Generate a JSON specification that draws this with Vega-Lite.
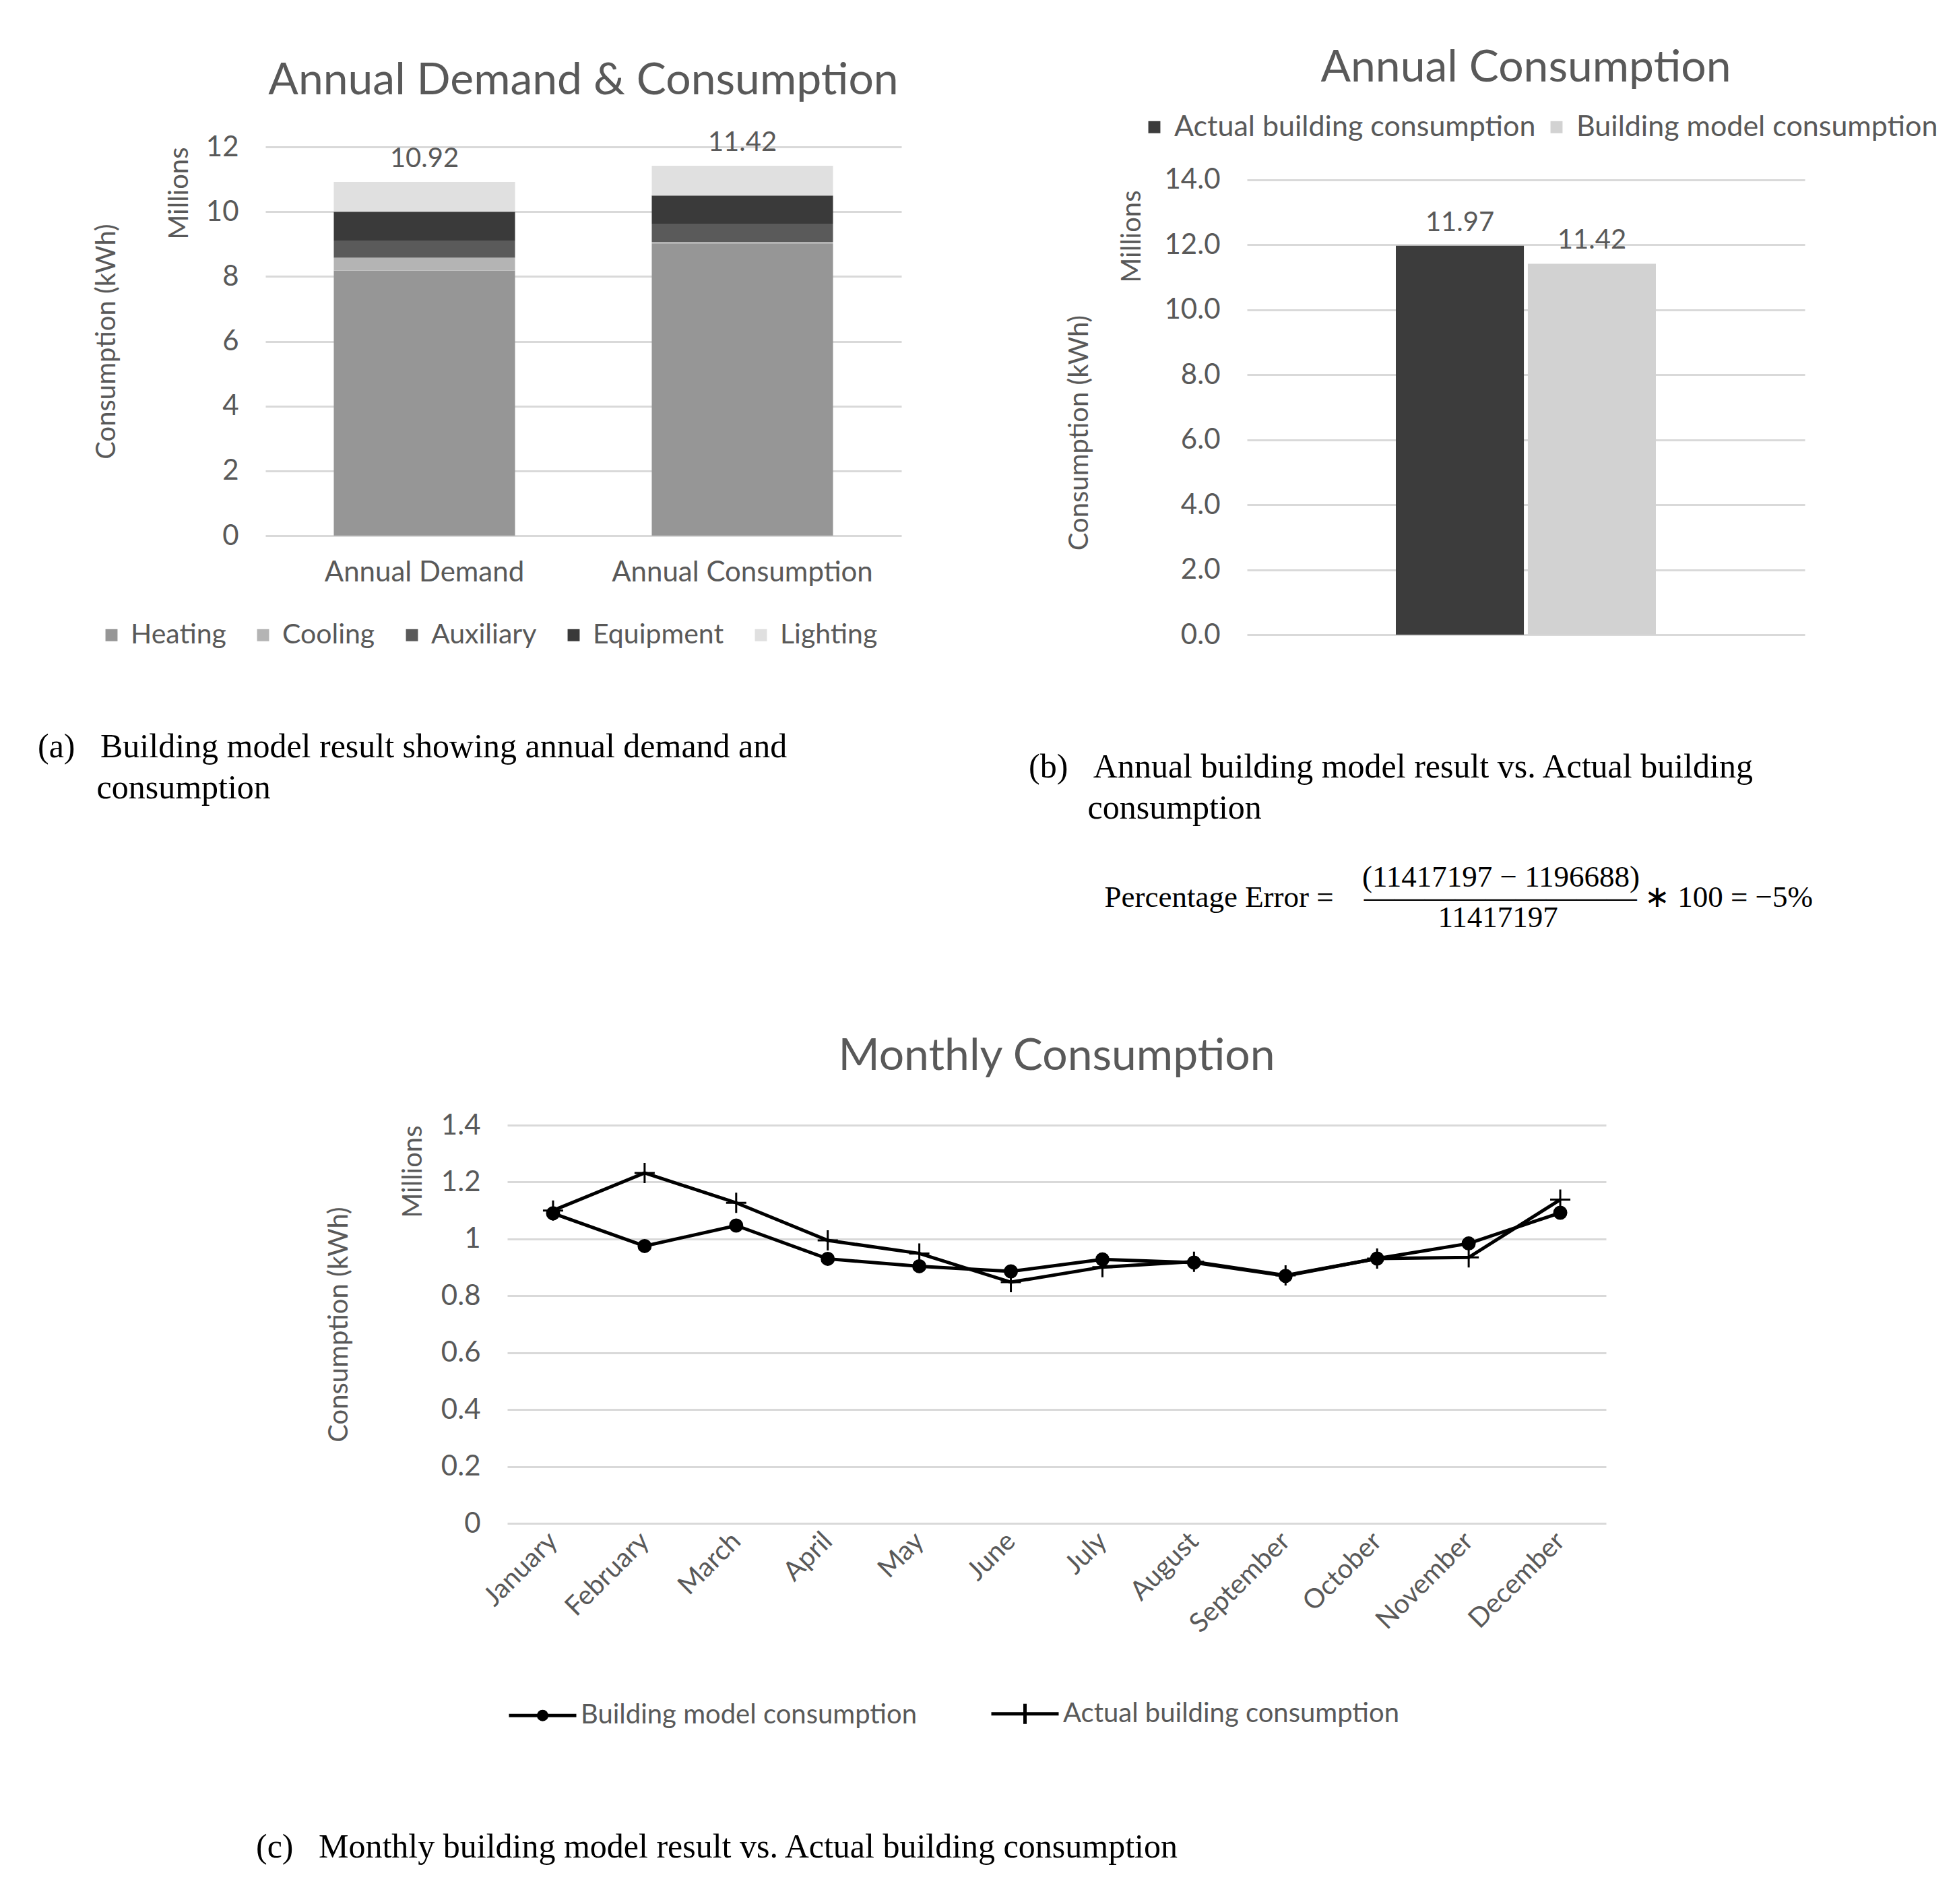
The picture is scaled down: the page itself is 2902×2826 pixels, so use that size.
{
  "$schema": "https://vega.github.io/schema/vega-lite/v6.json",
  "background": "white",
  "padding": {"left": 56, "top": 68, "right": 10, "bottom": 10},
  "config": {
    "view": {"stroke": null},
    "font": "Lato",
    "axis": {"labelFont": "Lato", "labelColor": "#595959", "titleFont": "Lato", "titleColor": "#595959", "titleFontWeight": "normal", "gridColor": "#d9d9d9", "gridWidth": 3, "domain": false, "ticks": false, "labelLimit": 1000},
    "legend": {"labelFont": "Lato", "labelColor": "#595959", "labelLimit": 1000},
    "title": {"font": "Lato", "color": "#595959", "fontWeight": "normal"}
  },
  "resolve": {"scale": {"color": "independent", "shape": "independent"}, "legend": {"color": "independent", "shape": "independent"}},
  "vconcat": [
    {
      "resolve": {"scale": {"color": "independent", "shape": "independent"}, "legend": {"color": "independent", "shape": "independent"}},
      "hconcat": [
        {
          "vconcat": [
            {
              "width": 944,
              "height": 577,
              "title": {"text": "Annual Demand & Consumption", "fontSize": 66, "offset": 38, "anchor": "middle"},
              "data": {"values": [
                {"scenario": "Annual Demand", "category": "Heating", "value": 8.18},
                {"scenario": "Annual Demand", "category": "Cooling", "value": 0.40},
                {"scenario": "Annual Demand", "category": "Auxiliary", "value": 0.53},
                {"scenario": "Annual Demand", "category": "Equipment", "value": 0.89},
                {"scenario": "Annual Demand", "category": "Lighting", "value": 0.92},
                {"scenario": "Annual Consumption", "category": "Heating", "value": 9.02},
                {"scenario": "Annual Consumption", "category": "Cooling", "value": 0.05},
                {"scenario": "Annual Consumption", "category": "Auxiliary", "value": 0.56},
                {"scenario": "Annual Consumption", "category": "Equipment", "value": 0.87},
                {"scenario": "Annual Consumption", "category": "Lighting", "value": 0.92}
              ]},
              "layer": [
                {
                  "transform": [{"calculate": "indexof(['Heating','Cooling','Auxiliary','Equipment','Lighting'], datum.category)", "as": "stackOrder"}],
                  "mark": {"type": "bar"},
                  "encoding": {
                    "x": {"field": "scenario", "type": "nominal", "sort": ["Annual Demand", "Annual Consumption"], "scale": {"paddingInner": 0.43, "paddingOuter": 0.215}, "axis": {"title": null, "labelAngle": 0, "labelFontSize": 42, "labelPadding": 34}},
                    "y": {"field": "value", "type": "quantitative", "stack": "zero", "scale": {"domain": [0, 12], "nice": false}, "axis": {"title": "Millions", "titleAnchor": "end", "titleFontSize": 40, "titlePadding": 19, "values": [0, 2, 4, 6, 8, 10, 12], "labelFontSize": 42, "labelPadding": 40, "grid": true}},
                    "color": {"field": "category", "type": "nominal", "sort": ["Heating", "Cooling", "Auxiliary", "Equipment", "Lighting"], "scale": {"domain": ["Heating", "Cooling", "Auxiliary", "Equipment", "Lighting"], "range": ["#969696", "#b4b4b4", "#5a5a5a", "#3a3a3a", "#e0e0e0"]}, "legend": {"orient": "none", "legendX": -249, "legendY": 704, "direction": "horizontal", "title": null, "labelFontSize": 41, "symbolType": "square", "symbolSize": 320, "columnPadding": 34, "labelOffset": 8}},
                    "order": {"field": "stackOrder", "type": "quantitative"}
                  }
                },
                {
                  "transform": [{"aggregate": [{"op": "sum", "field": "value", "as": "total"}], "groupby": ["scenario"]}],
                  "mark": {"type": "text", "baseline": "bottom", "dy": -14, "fontSize": 40, "color": "#595959"},
                  "encoding": {
                    "x": {"field": "scenario", "type": "nominal", "sort": ["Annual Demand", "Annual Consumption"]},
                    "y": {"field": "total", "type": "quantitative", "scale": {"domain": [0, 12], "nice": false}, "axis": {"orient": "left", "title": "Consumption (kWh)", "titleFontSize": 40, "labels": false, "grid": false, "titlePadding": 0, "offset": 216}},
                    "text": {"field": "total", "type": "quantitative", "format": ".2f"}
                  }
                }
              ],
              "resolve": {"scale": {"y": "independent"}}
            }
          ],
          "title": {"text": ["(a)\u2002\u2005Building model result showing annual demand and", "\u200B\u2003\u2002\u2005consumption"], "orient": "bottom", "anchor": "start", "frame": "group", "dx": -338, "offset": 121, "font": "Liberation Serif", "fontSize": 50, "lineHeight": 61, "color": "#000000", "fontWeight": "normal"}
        },
        {
          "vconcat": [
            {
              "width": 828,
              "height": 724,
              "title": {"text": "Annual Consumption", "fontSize": 66, "offset": 83, "anchor": "middle"},
              "data": {"values": [
                {"series": "Actual building consumption", "value": 11.97},
                {"series": "Building model consumption", "value": 11.42}
              ]},
              "layer": [
                {
                  "mark": {"type": "bar"},
                  "encoding": {
                    "x": {"datum": "Annual", "type": "nominal", "scale": {"paddingInner": 0, "paddingOuter": 0.5725}, "axis": null},
                    "xOffset": {"field": "series", "type": "nominal", "sort": ["Actual building consumption", "Building model consumption"], "scale": {"paddingInner": 0.03, "paddingOuter": 0}},
                    "y": {"field": "value", "type": "quantitative", "scale": {"domain": [0, 15.016], "nice": false}, "axis": {"title": "Millions", "titleAnchor": "end", "titleY": 64, "titleFontSize": 40, "titlePadding": 28, "values": [0, 2, 4, 6, 8, 10, 12, 14], "format": ".1f", "labelFontSize": 42, "labelPadding": 40, "grid": true}},
                    "color": {"field": "series", "type": "nominal", "sort": ["Actual building consumption", "Building model consumption"], "scale": {"domain": ["Actual building consumption", "Building model consumption"], "range": ["#3c3c3c", "#d2d2d2"]}, "legend": {"orient": "none", "legendX": -159, "legendY": -51, "direction": "horizontal", "title": null, "labelFontSize": 43, "symbolType": "square", "symbolSize": 320, "columnPadding": 9, "labelOffset": 8}}
                  }
                },
                {
                  "mark": {"type": "text", "baseline": "bottom", "dy": -14, "fontSize": 40, "color": "#595959"},
                  "encoding": {
                    "x": {"datum": "Annual", "type": "nominal"},
                    "xOffset": {"field": "series", "type": "nominal", "sort": ["Actual building consumption", "Building model consumption"]},
                    "y": {"field": "value", "type": "quantitative", "scale": {"domain": [0, 15.016], "nice": false}, "axis": {"orient": "left", "title": "Consumption (kWh)", "titleY": 424, "titleFontSize": 40, "labels": false, "grid": false, "titlePadding": 0, "offset": 229}},
                    "text": {"field": "value", "type": "quantitative", "format": ".2f"}
                  }
                }
              ],
              "resolve": {"scale": {"y": "independent"}}
            }
          ],
          "title": {
            "text": ["(b)\u2002\u2005Annual building model result vs. Actual building", "\u200B\u2003\u2002\u2005consumption"],
            "subtitle": ["\u200B\u2003\u2003\u2003\u2003\u2003\u2003\u2003\u2003\u2003\u2003\u2003(11417197 \u2212 1196688)", "\u200B\u2003\u2003\u2002Percentage Error =\u2003\u2014\u2014\u2014\u2014\u2014\u2014\u2014\u2014\u2014 \u2217 100 = \u22125%", "\u200B\u2003\u2003\u2003\u2003\u2003\u2003\u2003\u2003\u2003\u2003\u2003\u2003\u2003\u200211417197"],
            "orient": "bottom", "anchor": "start", "frame": "group", "dx": -324, "offset": 151,
            "font": "Liberation Serif", "fontSize": 50, "lineHeight": 61, "color": "#000000", "fontWeight": "normal",
            "subtitleFont": "Liberation Serif", "subtitleFontSize": 45, "subtitleLineHeight": 30, "subtitleColor": "#000000", "subtitlePadding": 55
          }
        }
      ],
      "spacing": 189
    },
    {
      "resolve": {"scale": {"color": "independent", "shape": "independent"}, "legend": {"color": "independent", "shape": "independent"}},
      "hconcat": [
        {"width": 89, "height": 10, "data": {"values": []}, "mark": {"type": "point"}, "encoding": {}},
        {
          "width": 1631,
          "height": 591,
          "title": {"text": "Monthly Consumption", "fontSize": 66, "offset": 47, "anchor": "middle"},
          "data": {"values": [
            {"month": "January", "series": "Building model consumption", "value": 1.09},
            {"month": "February", "series": "Building model consumption", "value": 0.975},
            {"month": "March", "series": "Building model consumption", "value": 1.047},
            {"month": "April", "series": "Building model consumption", "value": 0.93},
            {"month": "May", "series": "Building model consumption", "value": 0.904},
            {"month": "June", "series": "Building model consumption", "value": 0.886},
            {"month": "July", "series": "Building model consumption", "value": 0.928},
            {"month": "August", "series": "Building model consumption", "value": 0.917},
            {"month": "September", "series": "Building model consumption", "value": 0.87},
            {"month": "October", "series": "Building model consumption", "value": 0.931},
            {"month": "November", "series": "Building model consumption", "value": 0.984},
            {"month": "December", "series": "Building model consumption", "value": 1.092},
            {"month": "January", "series": "Actual building consumption", "value": 1.10},
            {"month": "February", "series": "Actual building consumption", "value": 1.232},
            {"month": "March", "series": "Actual building consumption", "value": 1.127},
            {"month": "April", "series": "Actual building consumption", "value": 0.995},
            {"month": "May", "series": "Actual building consumption", "value": 0.949},
            {"month": "June", "series": "Actual building consumption", "value": 0.848},
            {"month": "July", "series": "Actual building consumption", "value": 0.901},
            {"month": "August", "series": "Actual building consumption", "value": 0.92},
            {"month": "September", "series": "Actual building consumption", "value": 0.872},
            {"month": "October", "series": "Actual building consumption", "value": 0.931},
            {"month": "November", "series": "Actual building consumption", "value": 0.935},
            {"month": "December", "series": "Actual building consumption", "value": 1.138}
          ]},
          "layer": [
            {
              "mark": {"type": "line", "color": "#000000", "strokeWidth": 5},
              "encoding": {
                "x": {"field": "month", "type": "ordinal", "sort": ["January", "February", "March", "April", "May", "June", "July", "August", "September", "October", "November", "December"], "scale": {"type": "point", "padding": 0.5}, "axis": {"title": null, "labelAngle": -45, "labelAlign": "right", "labelBaseline": "middle", "labelFontSize": 40, "labelPadding": 20}},
                "y": {"field": "value", "type": "quantitative", "scale": {"domain": [0, 1.4], "nice": false}, "axis": {"title": "Millions", "titleAnchor": "end", "titleFontSize": 40, "titlePadding": 21, "values": [0, 0.2, 0.4, 0.6, 0.8, 1, 1.2, 1.4], "format": "~g", "labelFontSize": 42, "labelPadding": 40, "grid": true}},
                "detail": {"field": "series", "type": "nominal"}
              }
            },
            {
              "mark": {"type": "point", "filled": true, "fill": "#000000", "stroke": "#000000", "strokeWidth": 3, "size": 900, "opacity": 1},
              "encoding": {
                "x": {"field": "month", "type": "ordinal", "sort": ["January", "February", "March", "April", "May", "June", "July", "August", "September", "October", "November", "December"]},
                "y": {"field": "value", "type": "quantitative", "scale": {"domain": [0, 1.4], "nice": false}, "axis": {"orient": "left", "title": "Consumption (kWh)", "titleFontSize": 40, "labels": false, "grid": false, "titlePadding": 0, "offset": 230}},
                "shape": {"field": "series", "type": "nominal", "scale": {"domain": ["Building model consumption", "Actual building consumption"], "range": ["M-0.6,0A0.6,0.6,0,1,1,0.6,0A0.6,0.6,0,1,1,-0.6,0Z", "M-1,0L1,0M0,-1L0,1"]}, "legend": null}
              }
            },
            {
              "transform": [{"filter": "datum.value > 100"}],
              "mark": {"type": "point", "filled": false, "color": "#000000", "strokeWidth": 5, "size": 10000, "opacity": 1},
              "encoding": {
                "x": {"field": "month", "type": "ordinal", "sort": ["January", "February", "March", "April", "May", "June", "July", "August", "September", "October", "November", "December"]},
                "y": {"field": "value", "type": "quantitative", "scale": {"domain": [0, 1.4], "nice": false}, "axis": null},
                "shape": {"field": "series", "type": "nominal", "scale": {"domain": ["Building model consumption", "Actual building consumption"], "range": ["M-1,0L1,0M-0.12,0A0.12,0.12,0,1,1,0.12,0A0.12,0.12,0,1,1,-0.12,0M-0.07,0A0.07,0.07,0,1,1,0.07,0A0.07,0.07,0,1,1,-0.07,0M-0.02,0A0.02,0.02,0,1,1,0.02,0A0.02,0.02,0,1,1,-0.02,0", "M-1,0L1,0M0,-0.3L0,0.3"]},
                  "legend": {"orient": "bottom", "direction": "horizontal", "title": null, "labelFontSize": 40, "symbolSize": 10000, "symbolStrokeWidth": 5, "symbolStrokeColor": "#000000", "symbolOpacity": 1, "columnPadding": 100, "labelOffset": 4, "offset": 60}}
              }
            }
          ],
          "resolve": {"scale": {"y": "independent", "shape": "independent"}}
        }
      ],
      "spacing": 0,
      "title": {"text": "(c)\u2002\u2005Monthly building model result vs. Actual building consumption", "orient": "bottom", "anchor": "start", "frame": "group", "dx": -14, "offset": 148, "font": "Liberation Serif", "fontSize": 50, "color": "#000000", "fontWeight": "normal"}
    }
  ],
  "spacing": 150
}
